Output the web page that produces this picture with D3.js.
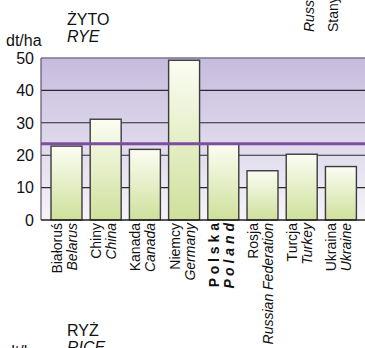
<!DOCTYPE html>
<html><head><meta charset="utf-8">
<script src="https://cdn.jsdelivr.net/npm/d3@7"></script>
<style>
html,body{margin:0;padding:0;background:#fff;}
text{font-family:"Liberation Sans",Arial,Helvetica,sans-serif;}
</style></head>
<body>
<script>
const categoriesPL = ["Białoruś","Chiny","Kanada","Niemcy","P o l s k a","Rosja","Turcja","Ukraina"];
const categoriesEN = ["Belarus","China","Canada","Germany","P o l a n d","Russian Federation","Turkey","Ukraine"];
const values = [22.8, 31.1, 21.8, 49.3, 23.5, 15.2, 20.3, 16.5];
const highlight = "P o l s k a";
const averageValue = 23.5;
const yTicks = [0, 10, 20, 30, 40, 50];

(function () {
const W = 365, H = 348;
const svg = d3.select("body").append("svg").attr("width", W).attr("height", H);
const defs = svg.append("defs");
const bg = defs.append("linearGradient").attr("id","bg").attr("x1",0).attr("y1",0).attr("x2",0).attr("y2",1);
bg.append("stop").attr("offset","0%").attr("stop-color","#c6bbdd");
bg.append("stop").attr("offset","100%").attr("stop-color","#f6f4f9");
const bar = defs.append("linearGradient").attr("id","bar").attr("x1",0).attr("y1",0).attr("x2",0).attr("y2",1);
bar.append("stop").attr("offset","0%").attr("stop-color","#fbfdf3");
bar.append("stop").attr("offset","100%").attr("stop-color","#cfe09b");

const mLeft = 41, mTop = 58, mBottom = 220;
const y = d3.scaleLinear().domain([0, 50]).range([mBottom, mTop]);
const x = d3.scaleBand().domain(categoriesPL).range([mLeft, 366.4]).paddingInner(0.21).paddingOuter(0.255);

svg.append("rect").attr("x", mLeft).attr("y", y(50)).attr("width", W - mLeft).attr("height", y(0) - y(50)).attr("fill", "url(#bg)");

svg.append("g").selectAll("line").data(yTicks.filter(t => t > 0 && t < 50)).join("line")
  .attr("x1", mLeft).attr("x2", W).attr("y1", d => y(d)).attr("y2", d => y(d))
  .attr("stroke", "#2a2a2a").attr("stroke-width", 1.1);
svg.append("line").attr("x1", mLeft).attr("x2", W).attr("y1", y(50)).attr("y2", y(50)).attr("stroke", "#7d7590").attr("stroke-width", 1.6);
svg.append("line").attr("x1", mLeft).attr("x2", mLeft).attr("y1", y(50)).attr("y2", y(0)).attr("stroke", "#5d566a").attr("stroke-width", 1.2);

svg.append("g").selectAll("rect").data(values).join("rect")
  .attr("x", (d, i) => x(categoriesPL[i]))
  .attr("y", d => y(d))
  .attr("width", x.bandwidth())
  .attr("height", d => y(0) - y(d))
  .attr("fill", "url(#bar)")
  .attr("stroke", "#3c3c3c").attr("stroke-width", 1.4);

svg.append("line").attr("x1", mLeft).attr("x2", W).attr("y1", y(averageValue)).attr("y2", y(averageValue))
  .attr("stroke", "#7c4ea2").attr("stroke-width", 3);

svg.append("line").attr("x1", mLeft).attr("x2", W).attr("y1", y(0)).attr("y2", y(0)).attr("stroke", "#222").attr("stroke-width", 1.6);

svg.append("g").selectAll("text").data(yTicks).join("text")
  .attr("x", 34).attr("y", d => y(d)).attr("dy", "0.36em")
  .attr("text-anchor", "end").attr("font-size", 16).attr("fill", "#111").text(d => d);

svg.append("text").attr("x", 6).attr("y", 46).attr("font-size", 16).attr("fill", "#111").text("dt/ha");
svg.append("text").attr("x", 67).attr("y", 25).attr("font-size", 16).attr("fill", "#111").text("ŻYTO");
svg.append("text").attr("x", 67).attr("y", 42).attr("font-size", 16).attr("font-style", "italic").attr("fill", "#111").text("RYE");

const lab = svg.append("g");
categoriesPL.forEach((c, i) => {
  const cx = x(c) + x.bandwidth() / 2;
  const bold = c === highlight;
  lab.append("text").attr("transform", `translate(${cx - 4.5},223) rotate(-90)`)
    .attr("text-anchor", "end").attr("font-size", 14).attr("fill", "#111")
    .attr("font-weight", bold ? "bold" : "normal").text(c);
  lab.append("text").attr("transform", `translate(${cx + 10.5},223) rotate(-90)`)
    .attr("text-anchor", "end").attr("font-size", 14).attr("font-style", "italic").attr("fill", "#111")
    .attr("font-weight", bold ? "bold" : "normal").text(categoriesEN[i]);
});

svg.append("text").attr("transform", "translate(314,32) rotate(-90)").attr("font-size", 14).attr("font-style", "italic").attr("fill", "#111").text("Russian Federation");
svg.append("text").attr("transform", "translate(337.5,32) rotate(-90)").attr("font-size", 14).attr("fill", "#111").text("Stany Zjednoczone");

svg.append("text").attr("x", 67).attr("y", 336).attr("font-size", 16).attr("fill", "#111").text("RYŻ");
svg.append("text").attr("x", 67).attr("y", 353).attr("font-size", 16).attr("font-style", "italic").attr("fill", "#111").text("RICE");
svg.append("text").attr("x", 6).attr("y", 357).attr("font-size", 16).attr("fill", "#111").text("dt/ha");
})();
</script>
</body></html>
